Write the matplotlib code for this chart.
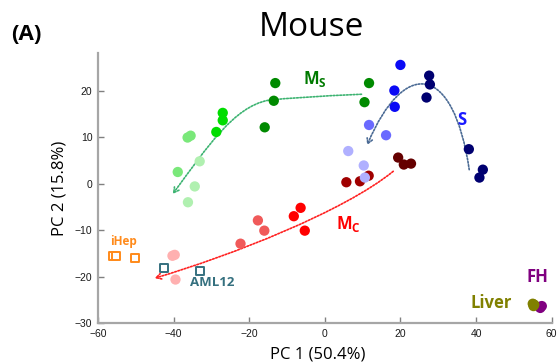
import matplotlib
matplotlib.use("Agg")
import matplotlib.pyplot as plt
from matplotlib.path import Path
from matplotlib.patches import FancyArrowPatch

LABEL_FONT = 'Open Sans'
plt.rcParams['mathtext.fontset'] = 'custom'
plt.rcParams['mathtext.rm'] = LABEL_FONT + ':bold'
plt.rcParams['mathtext.it'] = LABEL_FONT + ':bold'
plt.rcParams['mathtext.bf'] = LABEL_FONT + ':bold'

# ---------------- data ----------------
ms_dark_x = [11.7, 10.5, -13.1, -13.5, -15.9]
ms_dark_y = [21.6, 17.5, 21.6, 17.8, 12.1]
ms_bright_x = [-27.0, -27.0, -28.7]
ms_bright_y = [15.2, 13.6, 11.1]
ms_light_x = [-36.3, -35.5, -38.9]
ms_light_y = [9.9, 10.3, 2.5]
ms_pale_x = [-33.1, -34.4, -36.2]
ms_pale_y = [4.8, -0.6, -4.0]

mc_darkest_x = [19.4, 20.9, 22.8]
mc_darkest_y = [5.6, 4.1, 4.3]
mc_dark_x = [5.7, 9.3, 11.6]
mc_dark_y = [0.3, 0.5, 1.7]
mc_red_x = [-6.4, -8.2, -5.3]
mc_red_y = [-5.2, -7.0, -10.1]
mc_salmon_x = [-17.7, -16.0, -22.3]
mc_salmon_y = [-7.9, -10.1, -12.9]
mc_pale_x = [-40.3, -39.7, -39.5]
mc_pale_y = [-15.5, -15.3, -20.6]

s_navy_x = [27.6, 27.8, 26.9, 38.1, 41.8, 40.9]
s_navy_y = [23.2, 21.3, 18.5, 7.4, 3.0, 1.3]
s_blue_x = [20.0, 18.4, 18.5]
s_blue_y = [25.5, 20.0, 16.5]
s_mid_x = [11.7, 16.2]
s_mid_y = [12.6, 10.4]
s_light_x = [6.2, 10.3, 10.6]
s_light_y = [7.0, 3.9, 1.3]

ihep_x = [-56.1, -55.3, -50.1]
ihep_y = [-15.5, -15.6, -16.0]
aml_x = [-42.6, -32.9]
aml_y = [-18.2, -18.7]

liver_x = [55.0, 55.4, 55.2]
liver_y = [-25.8, -26.0, -26.3]
fh_x = [56.8, 57.4, 57.0]
fh_y = [-26.5, -26.3, -26.7]

# ---------------- figure ----------------
fig = plt.figure(figsize=(5.58, 3.63), dpi=100)
ax = fig.add_axes([0.1756, 0.1094, 0.813, 0.7438])
ax.set_xlim(-60, 60)
ax.set_ylim(-30, 28)
ax.set_xticks([-60, -40, -20, 0, 20, 40, 60])
ax.set_yticks([-30, -20, -10, 0, 10, 20])
for s in ['top', 'right']:
    ax.spines[s].set_visible(False)
for s in ['left', 'bottom']:
    ax.spines[s].set_color('#a6a6a6')
    ax.spines[s].set_linewidth(1.6)
ax.tick_params(direction='in', length=4, width=1, color='#808080',
               labelsize=7.5, labelcolor='#1a1a1a', pad=4)
for lab in ax.get_xticklabels() + ax.get_yticklabels():
    lab.set_family('Liberation Sans')

S = 55
def dots(x, y, c, z=3):
    ax.scatter(x, y, s=S, color=c, edgecolors='none', zorder=z)

# arrows (annotation curves)
def curve(verts, codes, color):
    p = FancyArrowPatch(path=Path(verts, codes),
                        arrowstyle='->,head_length=3.5,head_width=2',
                        linestyle=(0, (1, 1)), linewidth=1.2, color=color,
                        zorder=2)
    ax.add_patch(p)

green_v = [(9.7, 19.2), (-8, 18.6), (-15, 17.9),
           (-24, 16.5), (-31, 8.0), (-40.2, -2.2)]
green_c = [Path.MOVETO, Path.CURVE3, Path.CURVE3,
           Path.CURVE4, Path.CURVE4, Path.CURVE4]
curve(green_v, green_c, '#3cb371')

blue_v = [(38.2, 3.0), (34.0, 26.0), (21.0, 27.0), (11.2, 8.3)]
blue_c = [Path.MOVETO, Path.CURVE4, Path.CURVE4, Path.CURVE4]
curve(blue_v, blue_c, '#4a6a94')

red_v = [(18.1, 2.65), (5.0, -6.0), (-25.0, -15.5), (-45.0, -20.3)]
red_c = [Path.MOVETO, Path.CURVE4, Path.CURVE4, Path.CURVE4]
curve(red_v, red_c, '#ff2020')

# points
dots(ms_pale_x, ms_pale_y, '#b0f0b0')
dots(ms_light_x, ms_light_y, '#7ae87a')
dots(ms_bright_x, ms_bright_y, '#00dd00')
dots(ms_dark_x, ms_dark_y, '#008a00')

dots(mc_pale_x, mc_pale_y, '#ffb0b0')
dots(mc_salmon_x, mc_salmon_y, '#f05a5a')
dots(mc_red_x, mc_red_y, '#ff0000')
dots(mc_dark_x, mc_dark_y, '#a00000')
dots(mc_darkest_x, mc_darkest_y, '#650000')

dots(s_light_x, s_light_y, '#b0b0ff', z=4)
dots(s_mid_x, s_mid_y, '#6a6aff', z=4)
dots(s_blue_x, s_blue_y, '#0a0af5', z=4)
dots(s_navy_x, s_navy_y, '#000070', z=4)

ax.scatter(ihep_x, ihep_y, s=28, marker='s', facecolors='white',
           edgecolors='#ff8a1a', linewidths=1.4, zorder=4)
ax.scatter(aml_x, aml_y, s=28, marker='s', facecolors='white',
           edgecolors='#35707f', linewidths=1.4, zorder=4)

dots(fh_x, fh_y, '#800080', z=4)
dots(liver_x, liver_y, '#808000', z=5)

# labels
lab = dict(family=LABEL_FONT, fontweight='bold', ha='center', va='center')
ax.text(-2.6, 22.4, r'$\mathrm{M_S}$', color='#007a00', fontsize=12, **lab)
ax.text(36.2, 13.6, 'S', color='#1a1aff', fontsize=12, **lab)
ax.text(6.2, -8.6, r'$\mathrm{M_C}$', color='#ff0000', fontsize=12, **lab)
ax.text(-53.2, -12.4, 'iHep', color='#ff8a1a', fontsize=8.5, **lab)
ax.text(-29.9, -21.2, 'AML12', color='#35707f', fontsize=9.5, **lab)
ax.text(44.0, -25.7, 'Liver', color='#808000', fontsize=12, **lab)
ax.text(56.2, -20.1, 'FH', color='#800080', fontsize=12, **lab)

ax.set_xlabel('PC 1 (50.4%)', family=LABEL_FONT, fontsize=12)
ax.xaxis.set_label_coords(0.485, -0.085)
ax.set_ylabel('PC 2 (15.8%)', family=LABEL_FONT, fontsize=12, labelpad=5)

fig.text(0.559, 0.925, 'Mouse', family=LABEL_FONT, fontsize=24,
         ha='center', va='center')
fig.text(0.047, 0.906, '(A)', family=LABEL_FONT, fontweight='bold',
         fontsize=16, ha='center', va='center')

fig.savefig('out.png', dpi=100)
